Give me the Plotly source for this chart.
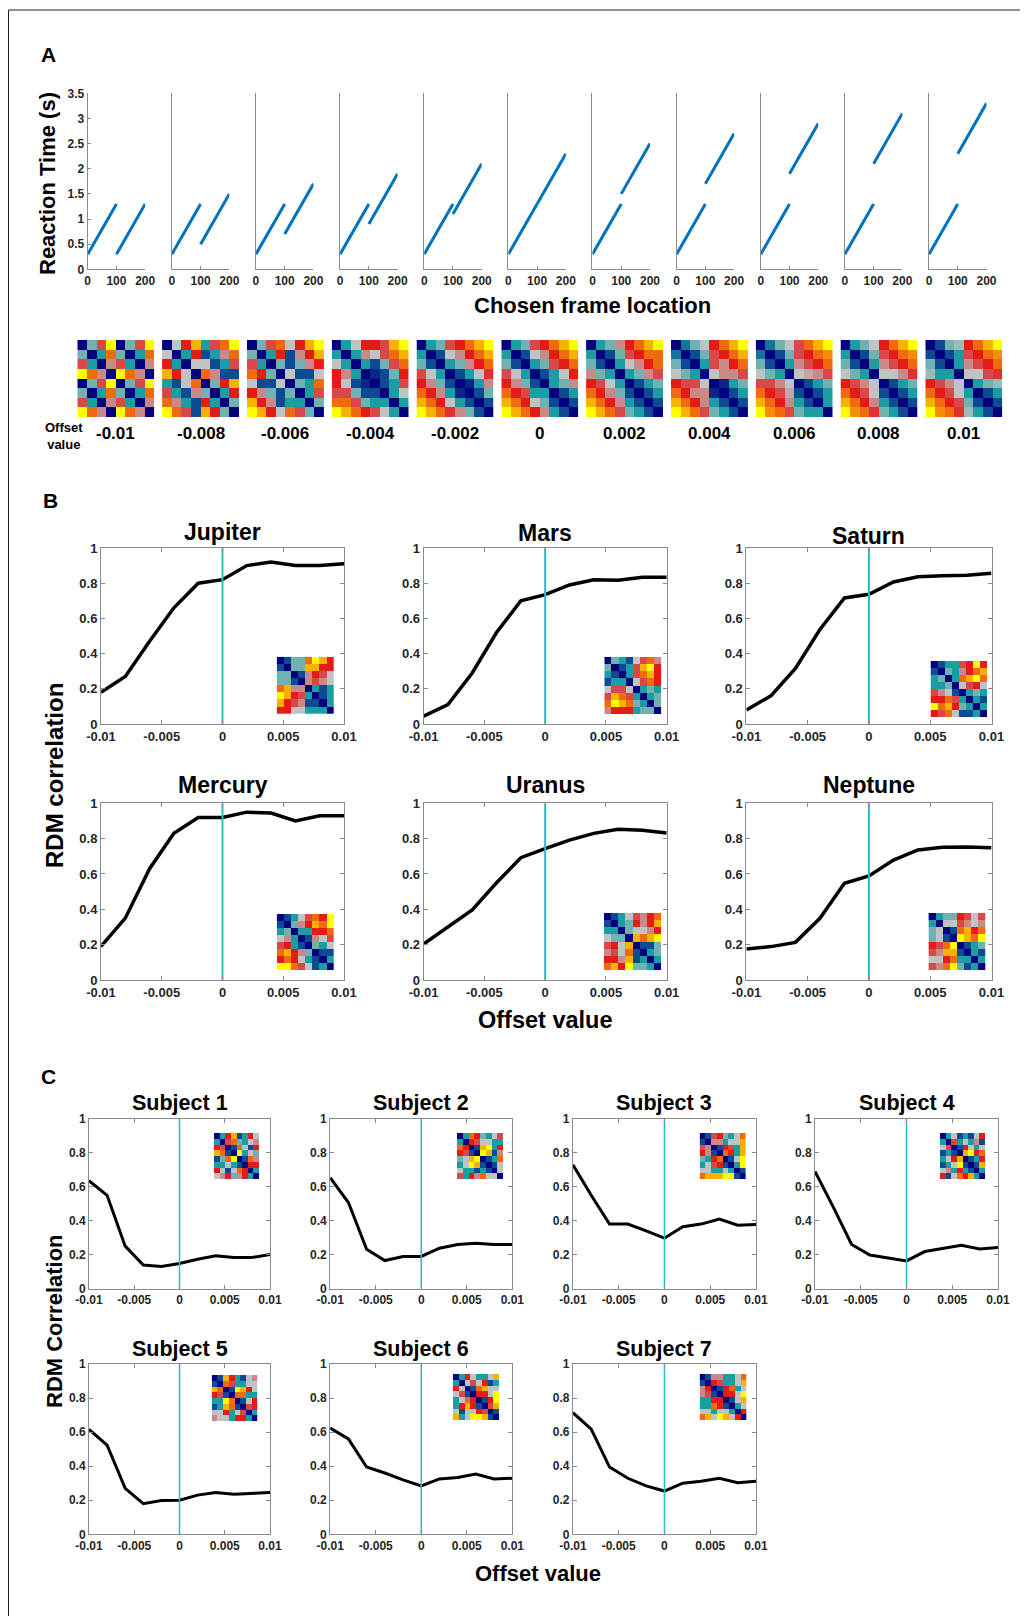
import plotly.graph_objects as go

# page is 1028x1616; the figure div sits at an 8px body margin
PAGE_W, PAGE_H = 1028, 1616
OFF = 8
W, H = PAGE_W - OFF, PAGE_H - OFF
FONT = "Liberation Sans, Arial, sans-serif"

# ---------------- DATA ----------------
offsets = [-0.01, -0.008, -0.006, -0.004, -0.002, 0, 0.002, 0.004, 0.006, 0.008, 0.01]
offset_labels = ["-0.01", "-0.008", "-0.006", "-0.004", "-0.002", "0",
                 "0.002", "0.004", "0.006", "0.008", "0.01"]

# Panel A: reaction time vs chosen frame location (two segments per offset)
frame_seg1 = [0, 100]
frame_seg2 = [100, 200]
rt_seg1 = [0.3, 1.3]
rt_seg2_start = [0.3, 0.5, 0.7, 0.9, 1.1, 1.3, 1.5, 1.7, 1.9, 2.1, 2.3]
rt_seg2_end = [1.3, 1.5, 1.7, 1.9, 2.1, 2.3, 2.5, 2.7, 2.9, 3.1, 3.3]
a_xticks = [0, 100, 200]
a_yticks = [0, 0.5, 1, 1.5, 2, 2.5, 3, 3.5]
a_yticktext = ["0", "0.5", "1", "1.5", "2", "2.5", "3", "3.5"]

# Panel A model RDMs (colour level 0 = navy ... 10 = yellow)
rdm_m010 = [[0,3,6,10,0,3,6,10],[3,0,2,8,3,0,2,8],[6,2,0,5,6,2,0,5],[10,8,5,0,10,8,5,0],
            [0,3,6,10,0,3,6,10],[3,0,2,8,3,0,2,8],[6,2,0,5,6,2,0,5],[10,8,5,0,10,8,5,0]]
rdm_m008 = [[0,4,7,9,2,6,8,10],[4,0,2,7,1,2,5,8],[7,2,0,4,4,1,2,6],[9,7,4,0,8,5,1,1],
            [2,1,4,8,0,3,7,9],[6,2,1,5,3,0,2,7],[8,5,2,1,7,2,0,3],[10,8,6,1,9,7,3,0]]
rdm_m006 = [[0,3,6,8,4,7,9,10],[3,0,2,7,1,5,7,9],[6,2,0,3,1,3,5,7],[8,7,3,0,4,1,1,4],
            [4,1,1,4,0,3,2,8],[7,5,3,1,3,0,2,6],[9,7,5,1,2,2,0,3],[10,9,7,4,8,6,3,0]]
rdm_m004 = [[0,2,4,7,7,6,9,10],[2,0,2,5,4,6,8,9],[4,2,0,2,1,3,6,8],[7,5,2,0,0.5,1,3,7],
            [7,4,1,0.5,0,1,2,6],[6,6,3,1,1,0,2,4],[8,8,6,3,2,2,0,2],[10,9,8,7,6,4,2,0]]
rdm_m002 = [[0,2,3,6,7,8,9,10],[2,0,1,4,5,7,8,9],[3,1,0,2,3,5,7,8],[6,4,2,0,1,2,4,6.5],
            [7,5,3,1,0,0.5,2,5],[8,7,5,2,0.5,0,1,3],[9,8,7,4,2,1,0,1],[10,9,8,6.5,5,3,1,0]]
rdm_000 = [[0,2,3,6,7,8,9,10],[2,0,1,4,5,7,8,9],[3,1,0,2,3,6,7,8],[6,4,2,0,1,2,4,7],
           [7,5,3,1,0,2,3,5],[8,7,6,2,2,0,1,2],[9,8,7,4,3,1,0,1],[10,9,8,7,5,2,1,0]]
rdm_p002 = [[0,2,3,5,7,8,9,10],[2,0,1,3,6,7,8,8],[3,1,0,2,4,5,7,8],[5,3,2,0,2,3,5,6],
            [7,6,4,2,0,1,2,3],[8,7,5,3,1,0,1,2],[9,8,7,5,2,1,0,1],[10,9,8,6,3,2,1,0]]
rdm_p004 = [[0,1.5,3,4,7,8,9,10],[1.5,0,1,3,6,7,8,9],[3,1,0,2,6,5,7,8],[4,3,2,0,4,5,5,6],
            [7,6,6,4,0,0.5,2,3],[8,7,5,5,0.5,0,1,2],[9,8,7,5,2,1,0,1],[10,9,8,6,3,2,1,0]]
rdm_p006 = [[0,1.5,3,4,6,8,9,10],[1.5,0,1,3,6,7,8,8.5],[3,1,0,2,5,6,7,8],[4,3,2,0,4,4.5,5,6],
            [6,6,5,4,0,1,2,3],[8,7,6,4.5,1,0,1,2],[9,8,7,5,2,1,0,2],[10,8.5,8,6,3,2,2,0]]
rdm_p008 = [[0,2,3,4,7,8,9,10],[2,0,1,3,6,7,8,8.5],[3,1,0,2,5,6,7,8],[4,3,2,0,4,4,5,6.5],
            [7,6,5,4,0,1,2,3],[8,7,6,4,1,0,1,2],[9,8,7,5,2,1,0,1],[10,8.5,8,6.5,3,2,1,0]]
rdm_p010 = [[0,1,3,3.5,7,8,9,10],[1,0,1,2,6,7,8,8.5],[3,1,0,2,5,6,7,8],[3.5,2,2,0,4,4,6,6.5],
            [7,6,5,4,0,2,3,3.5],[8,7,6,4,2,0,1,2],[9,8,7,6,3,1,0,1],[10,8.5,8,6.5,3.5,2,1,0]]
model_rdms = [rdm_m010, rdm_m008, rdm_m006, rdm_m004, rdm_m002, rdm_000,
              rdm_p002, rdm_p004, rdm_p006, rdm_p008, rdm_p010]

# Panel B: RDM correlation per planet
planet_names = ["Jupiter", "Mars", "Saturn", "Mercury", "Uranus", "Neptune"]
corr_jupiter = [0.18, 0.27, 0.47, 0.66, 0.80, 0.82, 0.90, 0.92, 0.90, 0.90, 0.91]
corr_mars = [0.045, 0.11, 0.29, 0.52, 0.70, 0.735, 0.79, 0.82, 0.817, 0.834, 0.834]
corr_saturn = [0.08, 0.16, 0.316, 0.537, 0.716, 0.737, 0.807, 0.836, 0.843, 0.845, 0.856]
corr_mercury = [0.19, 0.35, 0.63, 0.83, 0.92, 0.92, 0.95, 0.945, 0.90, 0.93, 0.93]
corr_uranus = [0.204, 0.30, 0.396, 0.55, 0.692, 0.743, 0.792, 0.83, 0.853, 0.847, 0.832]
corr_neptune = [0.175, 0.189, 0.213, 0.349, 0.547, 0.589, 0.679, 0.736, 0.751, 0.753, 0.749]
planet_corrs = [corr_jupiter, corr_mars, corr_saturn, corr_mercury, corr_uranus, corr_neptune]

rdm_jupiter = [[0,1,3,3,8,10,9,7],[1,0,3,3,9,9,7,7],[3,3,0,1,5,7,6,4],[3,3,1,0,5,6,5,4],
               [8,9,5,5,0,2,1,2],[10,9,7,6,2,0,1,2],[9,7,6,5,1,1,0,2],[7,7,4,4,2,2,2,0]]
rdm_mars = [[0,3,2,1,4,6,8,5],[3,0,1,2,6,9,10,7],[2,1,0,2,6,8,9,7],[1,2,2,0,4,6,8,7],
            [4,6,6,4,0,2,3,2],[6,9,8,6,2,0,2,3],[8,10,9,8,3,2,0,3],[5,7,7,7,2,3,3,0]]
rdm_saturn = [[0,1,2,2,6,7,10,7],[1,0,3,2,5,7,8,9],[2,3,0,2,8,9,10,8],[2,2,3,0,4,6,7,4],
              [6,5,4,1,0,2,3,2],[7,7,8,6,2,0,2,1],[10,8,9,7,3,2,0,2],[7,6,8,4,1,1,2,0]]
rdm_mercury = [[0,1,2,4,6,8,7,10],[1,0,3,5,7,9,8,10],[2,3,0,2,2,7,7,8],[4,5,2,0,1,5,4,6],
               [6,7,2,1,0,3,2,4],[8,9,7,5,3,0,1,1],[7,8,7,4,2,1,0,2],[10,10,8,6,4,1,2,0]]
rdm_uranus = [[0,1,2,4,6,5,7,8],[1,0,2,3,7,5,7,9],[2,2,0,3,4,4,5,7],[4,3,3,0,9,8,9,10],
              [6,7,4,9,0,1,1,3],[5,6,4,8,1,0,2,3],[7,7,5,9,1,2,0,2],[8,9,7,10,3,3,2,0]]
rdm_neptune = [[0,2,3,3,7,6,4,6],[2,0,4,4,6,5,4,5],[3,4,0,1,8,9,7,8],[3,4,1,0,10,9,8,10],
               [7,6,8,10,0,1,2,3],[6,5,9,9,1,0,2,1],[4,4,7,8,2,2,0,2],[6,5,8,10,3,1,2,0]]
planet_rdms = [rdm_jupiter, rdm_mars, rdm_saturn, rdm_mercury, rdm_uranus, rdm_neptune]

# Panel C: RDM correlation per subject
subject_names = ["Subject 1", "Subject 2", "Subject 3", "Subject 4",
                 "Subject 5", "Subject 6", "Subject 7"]
corr_s1 = [0.636, 0.55, 0.25, 0.138, 0.13, 0.148, 0.173, 0.193, 0.183, 0.183, 0.20]
corr_s2 = [0.654, 0.507, 0.232, 0.165, 0.189, 0.189, 0.238, 0.26, 0.267, 0.26, 0.26]
corr_s3 = [0.73, 0.55, 0.38, 0.38, 0.34, 0.297, 0.364, 0.38, 0.41, 0.373, 0.377]
corr_s4 = [0.69, 0.48, 0.26, 0.198, 0.18, 0.163, 0.218, 0.238, 0.255, 0.233, 0.242]
corr_s5 = [0.616, 0.524, 0.27, 0.18, 0.198, 0.20, 0.23, 0.245, 0.235, 0.24, 0.245]
corr_s6 = [0.624, 0.56, 0.395, 0.36, 0.32, 0.284, 0.325, 0.333, 0.354, 0.325, 0.329]
corr_s7 = [0.714, 0.618, 0.395, 0.329, 0.284, 0.254, 0.30, 0.311, 0.329, 0.303, 0.311]
subject_corrs = [corr_s1, corr_s2, corr_s3, corr_s4, corr_s5, corr_s6, corr_s7]

rdm_s1 = [[0,2,7,9,1,2,7,4],[2,0,6,8,3,2,4,5],[7,6,0,1,8,4,1,7],[9,8,1,0,10,2,4,3],
          [1,3,8,10,0,1,8,5],[2,2,4,2,1,0,7,7],[7,4,1,4,8,7,0,2],[4,5,7,3,5,7,2,0]]
rdm_s2 = [[0,2,8,7,3,2,4,6],[2,0,7,6,4,4,2,2],[8,7,0,1,9,10,2,7],[7,6,1,0,10,9,1,5],
          [3,4,9,10,0,1,2,8],[2,4,10,9,1,0,1,4],[4,2,2,1,2,1,0,4],[6,2,7,5,8,4,4,0]]
rdm_s3 = [[0,1,6,7,3,2,4,8],[1,0,5,5,2,4,4,9],[6,5,0,1,7,6,2,9],[7,5,1,0,8,7,2,9],
          [3,2,7,8,0,1,4,10],[2,4,6,7,1,0,2,10],[4,4,2,2,4,2,0,1],[8,9,9,9,10,10,1,0]]
rdm_s4 = [[0,2,4,1,2,1,4,7],[2,0,6,2,4,2,5,1],[4,6,0,1,7,4,2,4],[1,2,1,0,9,10,7,8],
          [2,4,7,9,0,1,2,7],[1,2,4,10,1,0,1,9],[4,5,2,7,2,1,0,2],[7,1,4,8,7,9,2,0]]
rdm_s5 = [[0,1,9,7,2,1,4,5],[1,0,8,6,2,2,4,4],[9,8,0,1,10,9,7,4],[7,6,1,0,8,8,2,2],
          [2,2,10,8,0,1,4,7],[1,2,9,8,1,0,6,7],[4,4,7,2,4,6,0,2],[5,4,4,2,7,7,2,0]]
rdm_s6 = [[0,2,7,4,2,2,4,9],[2,0,4,6,4,7,1,2],[7,4,0,1,8,9,4,4],[4,6,1,0,7,7,4,10],
          [2,4,8,7,0,1,7,10],[2,7,9,7,1,0,6,9],[4,1,4,4,7,6,0,1],[9,2,4,10,10,9,1,0]]
rdm_s7 = [[0,1,5,5,2,2,4,8],[1,0,7,6,2,2,4,9],[5,7,0,1,7,8,2,4],[5,6,1,0,7,7,4,10],
          [2,2,7,7,0,1,4,9],[2,2,8,7,1,0,2,4],[4,4,2,4,4,2,0,7],[8,9,4,10,9,4,7,0]]
subject_rdms = [rdm_s1, rdm_s2, rdm_s3, rdm_s4, rdm_s5, rdm_s6, rdm_s7]

corr_xticks = [-0.01, -0.005, 0, 0.005, 0.01]
corr_xticktext = ["-0.01", "-0.005", "0", "0.005", "0.01"]
corr_yticks = [0, 0.2, 0.4, 0.6, 0.8, 1]
corr_yticktext = ["0", "0.2", "0.4", "0.6", "0.8", "1"]

# ---------------- STYLE ----------------
rdm_colors = ["#00007f", "#0c4b93", "#1a9ea3", "#70b2b2", "#bfc3c3", "#c98989",
              "#d94848", "#e41b17", "#f06a10", "#f7b200", "#ffff00"]
colorscale = [[i / 10, c] for i, c in enumerate(rdm_colors)]
BLUE = "#0072BD"
CYAN = "#22c1c6"
AXC = "#8a8a8a"
TXT = "#262626"


def fx(x):
    """page pixel x -> paper fraction"""
    return (x - OFF) / W


def fy(y):
    """page pixel y -> paper fraction"""
    return 1 - (y - OFF) / H


def xdom(x0, x1):
    return [fx(x0), fx(x1)]


def ydom(y0, y1):
    return [fy(y1), fy(y0)]


fig = go.Figure()
layout = {}
annotations = []
counter = [0]


def new_axes():
    counter[0] += 1
    n = counter[0]
    s = "" if n == 1 else str(n)
    return "x" + s, "y" + s, "xaxis" + s, "yaxis" + s


def tickfont(size):
    return dict(family=FONT, size=size, color=TXT, weight="bold")


def add_text(text, x, y, size, angle=0, color="black", xanchor="center"):
    annotations.append(dict(text=text, x=fx(x), y=fy(y), xref="paper", yref="paper",
                            showarrow=False, textangle=angle, xanchor=xanchor, yanchor="middle",
                            font=dict(family=FONT, size=size, color=color, weight="bold")))


def add_heatmap(z, x0, x1, y0, y1):
    xa, ya, xk, yk = new_axes()
    fig.add_trace(go.Heatmap(z=z, xaxis=xa, yaxis=ya, colorscale=colorscale, zmin=0, zmax=10,
                             showscale=False, hoverinfo="skip"))
    layout[xk] = dict(domain=xdom(x0, x1), visible=False, range=[-0.5, 7.5], anchor=ya,
                      fixedrange=True)
    layout[yk] = dict(domain=ydom(y0, y1), visible=False, range=[7.5, -0.5], anchor=xa,
                      fixedrange=True)


def add_corr_plot(vals, x0, x1, y0, y1, lw, cw, fs):
    xa, ya, xk, yk = new_axes()
    fig.add_trace(go.Scatter(x=offsets, y=vals, mode="lines", xaxis=xa, yaxis=ya,
                             line=dict(color="black", width=lw), showlegend=False,
                             hoverinfo="skip"))
    fig.add_trace(go.Scatter(x=[0, 0], y=[0, 1], mode="lines", xaxis=xa, yaxis=ya,
                             line=dict(color=CYAN, width=cw), showlegend=False,
                             hoverinfo="skip"))
    common = dict(showline=True, mirror="ticks", linecolor=AXC, linewidth=1, ticks="inside",
                  ticklen=4, tickcolor=AXC, showgrid=False, zeroline=False,
                  tickfont=tickfont(fs), fixedrange=True, automargin=False)
    layout[xk] = dict(domain=xdom(x0, x1), range=[-0.01, 0.01], tickvals=corr_xticks,
                      ticktext=corr_xticktext, anchor=ya, **common)
    layout[yk] = dict(domain=ydom(y0, y1), range=[0, 1], tickvals=corr_yticks,
                      ticktext=corr_yticktext, anchor=xa, **common)


# ---------------- PANEL A ----------------
a_x0, a_dx, a_w = 87.7, 84.13, 57.5
for k in range(11):
    xa, ya, xk, yk = new_axes()
    xs = frame_seg1 + [None] + frame_seg2
    ys = rt_seg1 + [None] + [rt_seg2_start[k], rt_seg2_end[k]]
    fig.add_trace(go.Scatter(x=xs, y=ys, mode="lines", xaxis=xa, yaxis=ya,
                             line=dict(color=BLUE, width=3), showlegend=False,
                             hoverinfo="skip", connectgaps=False))
    x0 = a_x0 + a_dx * k
    layout[xk] = dict(domain=xdom(x0, x0 + a_w), range=[0, 200], tickvals=a_xticks,
                      showline=True, linecolor=AXC, linewidth=1, ticks="inside", ticklen=3,
                      tickcolor=AXC, showgrid=False, zeroline=False, mirror=False,
                      tickfont=tickfont(12), anchor=ya, fixedrange=True, automargin=False)
    layout[yk] = dict(domain=ydom(93.3, 269.3), range=[0, 3.5], tickvals=a_yticks,
                      ticktext=a_yticktext, showticklabels=(k == 0),
                      showline=True, linecolor=AXC, linewidth=1,
                      ticks="inside" if k == 0 else "", ticklen=3, tickcolor=AXC,
                      showgrid=False, zeroline=False, tickfont=tickfont(12), anchor=xa,
                      fixedrange=True, automargin=False)

add_text("A", 48, 55, 21)
add_text("Reaction Time (s)", 48, 184, 22, angle=-90)
add_text("Chosen frame location", 592, 306, 22)

h_x0, h_dx, h_w = 77.3, 84.8, 77
for k in range(11):
    x0 = h_x0 + h_dx * k
    add_heatmap(model_rdms[k], x0, x0 + h_w, 340, 417)
    add_text(offset_labels[k], x0 + h_w / 2, 433, 17, color="black")
add_text("Offset<br>value", 64, 436, 13)

# ---------------- PANEL B ----------------
b_cols = [(101, 344), (423.6, 666.7), (746.4, 991.5)]
b_rows = [(548, 724), (803.3, 980)]
b_title_y = [532, 533, 536, 785, 785, 785]
b_insets = [(276.7, 334, 656.7, 714), (604.3, 661.3, 657, 714), (930.5, 987, 661, 717),
            (276.7, 334, 914, 970), (604, 661, 913, 970), (928.4, 985.7, 913, 970)]
for i in range(6):
    r, c = divmod(i, 3)
    x0, x1 = b_cols[c]
    y0, y1 = b_rows[r]
    add_corr_plot(planet_corrs[i], x0, x1, y0, y1, 3.5, 2, 13)
    add_text(planet_names[i], (x0 + x1) / 2, b_title_y[i], 23)
for i in range(6):
    ix0, ix1, iy0, iy1 = b_insets[i]
    add_heatmap(planet_rdms[i], ix0, ix1, iy0, iy1)

add_text("B", 50, 500, 21)
add_text("RDM correlation", 54, 776, 24, angle=-90)
add_text("Offset value", 545, 1020, 23.5)

# ---------------- PANEL C ----------------
c_cols = [(89, 270), (330.2, 512.3), (572.9, 756), (815, 998)]
c_rows = [(1119, 1288.5), (1364, 1534.3)]
c_title_y = [1103, 1349]
c_insets = [(214, 259.3, 1133, 1179), (457, 503, 1133, 1179), (699.6, 746, 1133, 1179),
            (940, 985.4, 1133, 1179), (211.7, 257.3, 1375, 1421), (453, 499, 1374, 1420),
            (699.6, 746.5, 1374, 1420)]
for i in range(7):
    r, c = divmod(i, 4)
    x0, x1 = c_cols[c]
    y0, y1 = c_rows[r]
    add_corr_plot(subject_corrs[i], x0, x1, y0, y1, 3, 1.5, 12)
    add_text(subject_names[i], (x0 + x1) / 2, c_title_y[r], 21.5)
for i in range(7):
    ix0, ix1, iy0, iy1 = c_insets[i]
    add_heatmap(subject_rdms[i], ix0, ix1, iy0, iy1)

add_text("C", 48, 1076, 21)
add_text("RDM Correlation", 54, 1321, 22, angle=-90)
add_text("Offset value", 538, 1573, 22)

# frame lines (left and top edge of the figure box)
shapes = [
    dict(type="line", xref="paper", yref="paper", x0=fx(8.5), x1=fx(8.5), y0=0, y1=fy(10),
         line=dict(color="#222222", width=1)),
    dict(type="line", xref="paper", yref="paper", x0=fx(8.5), x1=1, y0=fy(10), y1=fy(10),
         line=dict(color="#222222", width=1)),
]

fig.update_layout(width=W, height=H,
                  margin=dict(l=0, r=0, t=0, b=0, pad=0, autoexpand=False),
                  paper_bgcolor="white", plot_bgcolor="white", showlegend=False,
                  annotations=annotations, shapes=shapes, **layout)

fig.write_html("out.html")
